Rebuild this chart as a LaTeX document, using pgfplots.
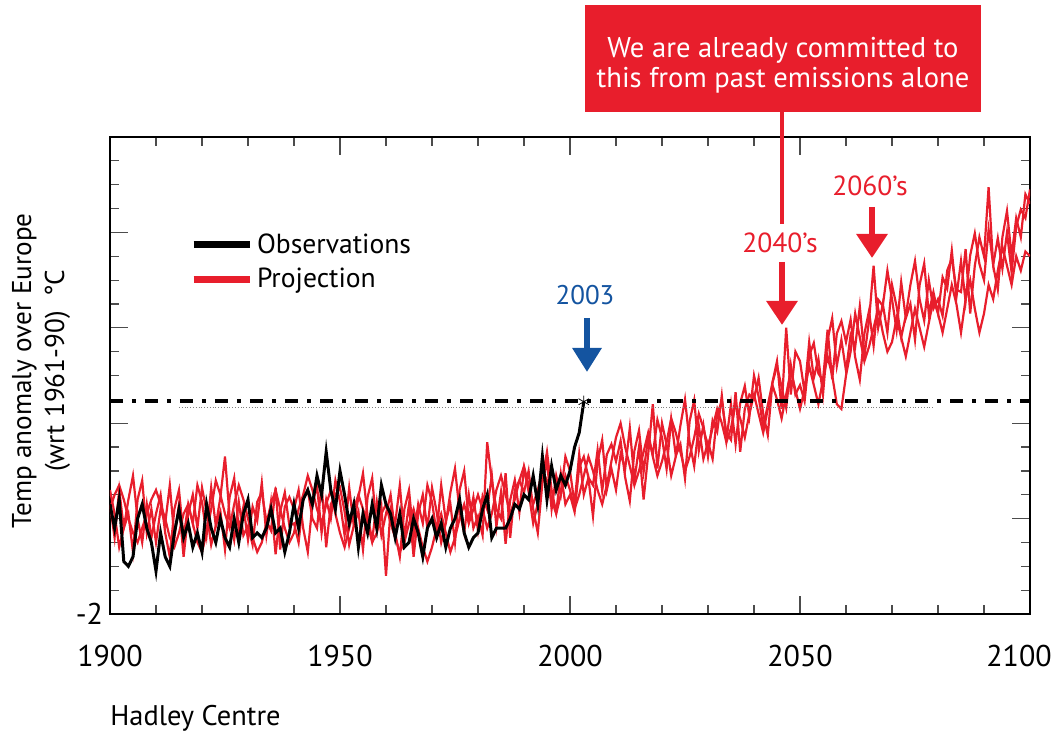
\documentclass[border=0pt]{standalone}
\usepackage{pgfplots}
\pgfplotsset{compat=1.18}
\usepackage{pgfplotstable}
\usepackage{fontspec}
\setmainfont{PT Sans}
\usetikzlibrary{arrows.meta}
\definecolor{projred}{RGB}{232,30,44}
\definecolor{obsblue}{RGB}{20,84,160}

% three projection members, annual
\pgfplotstableread{
year a b c
1900 0.3 0.6 0.2
1901 -0.4 0.1 0.5
1902 0.6 -0.6 0.7
1903 -0.2 -0.2 0.4
1904 0.1 0.4 0.0
1905 -0.7 0.9 -0.3
1906 0.4 0.0 -0.5
1907 0.8 -0.5 -0.2
1908 -0.3 0.3 0.1
1909 0.2 -0.4 0.4
1910 -0.5 0.1 0.6
1911 0.2 0.5 0.3
1912 -0.1 -0.3 0.0
1913 0.7 -0.8 -0.4
1914 -0.4 0.2 -0.6
1915 0.3 0.6 -0.3
1916 -0.8 -0.4 0.1
1917 0.1 0.3 0.3
1918 0.5 -0.1 -0.1
1919 -0.2 0.7 -0.5
1920 0.65 0.35 -0.7
1921 0.15 -0.35 -0.3
1922 -0.55 0.65 0.2
1923 -0.15 -0.15 0.8
1924 0.45 0.15 0.5
1925 1.3 -0.65 0.1
1926 0.05 0.45 -0.2
1927 -0.45 0.85 0.3
1928 0.35 -0.25 0.7
1929 -0.35 0.25 0.4
1930 -0.15 -0.45 0.0
1931 -0.55 0.25 -0.4
1932 0.35 -0.05 -0.7
1933 0.55 0.75 -0.5
1934 -0.05 -0.35 -0.1
1935 -0.25 0.35 0.3
1936 0.65 -0.75 0.6
1937 -0.65 0.15 0.2
1938 0.25 0.55 -0.2
1939 0.45 -0.15 -0.5
1940 0.2 -0.1 -0.3
1941 0.6 -0.5 0.2
1942 -0.2 0.4 0.5
1943 -0.7 0.6 0.9
1944 0.3 0.0 0.6
1945 0.7 -0.2 0.2
1946 -0.3 0.7 -0.1
1947 0.4 -0.6 0.3
1948 0.0 0.3 0.6
1949 0.8 0.5 0.1
1950 0.35 0.65 -0.3
1951 -0.35 0.15 -0.6
1952 0.65 -0.55 -0.2
1953 -0.15 -0.15 0.2
1954 0.15 0.45 0.5
1955 -0.65 0.95 0.2
1956 0.45 0.05 -0.1
1957 0.85 -0.45 -0.5
1958 -0.25 0.35 -0.3
1959 0.25 -0.35 0.1
1960 -1.2 0.1 0.3
1961 0.2 0.5 -0.1
1962 -0.1 -0.3 -0.4
1963 0.7 -0.8 -0.7
1964 -0.4 0.2 -0.5
1965 0.3 0.6 -0.1
1966 -0.8 -0.4 0.2
1967 0.1 0.3 -0.2
1968 0.5 -0.1 -0.6
1969 -0.2 0.7 -0.9
1970 0.65 0.35 -0.6
1971 0.15 -0.3 -0.2
1972 -0.5 0.7 0.1
1973 -0.1 -0.05 -0.3
1974 0.55 0.3 -0.7
1975 1.05 -0.5 -0.4
1976 0.15 0.6 0.0
1977 -0.3 1.0 0.3
1978 0.5 -0.05 -0.1
1979 -0.2 0.45 0.2
1980 0.05 -0.25 0.5
1981 -0.35 0.47 0.2
1982 1.6 0.19 -0.2
1983 0.8 0.91 0.1
1984 0.2 -0.17 0.6
1985 0.0 0.55 0.9
1986 0.95 -0.53 0.5
1987 -0.4 0.39 0.1
1988 0.6 0.81 0.4
1989 0.8 0.13 0.8
1990 0.55 1.05 1.1
1991 1.0 0.57 0.7
1992 0.2 -0.1 0.3
1993 -0.3 0.32 0.6
1994 0.75 0.85 1.0
1995 1.2 1.4 0.8
1996 0.2 0.6 0.4
1997 0.9 0.13 0.1
1998 0.5 0.95 0.5
1999 1.3 0.3 0.9
2000 1.0 0.5 0.6
2001 0.3 0.14 0.2
2002 1.35 1.08 0.5
2003 0.5 1.3 0.9
2004 0.85 0.86 1.3
2005 0.05 0.7 1.0
2006 1.2 1.44 0.6
2007 1.65 0.58 0.3
2008 0.6 1.34 0.7
2009 1.05 1.56 1.2
2010 0.6 1.2 1.7
2011 1.35 1.63 2.0
2012 1.05 0.86 1.5
2013 1.9 0.37 1.1
2014 0.8 1.42 0.7
2015 1.5 1.85 1.0
2016 0.4 0.98 1.4
2017 1.35 1.71 1.8
2018 2.4 1.34 1.3
2019 1.05 2.07 0.9
2020 2.0 1.7 1.2
2021 1.55 1.04 1.6
2022 0.9 2.08 2.1
2023 1.3 1.32 1.8
2024 1.95 1.56 1.4
2025 2.5 0.84 1.0
2026 1.6 2.04 1.3
2027 1.1 2.48 1.7
2028 1.95 1.42 2.2
2029 1.25 1.96 1.9
2030 1.6 1.3 1.5
2031 1.25 2.06 1.9
2032 2.2 1.82 2.3
2033 2.45 2.58 2.0
2034 1.8 1.64 1.6
2035 1.65 2.4 1.9
2036 2.65 1.56 2.4
2037 1.4 2.42 2.1
2038 2.3 2.78 1.7
2039 2.6 2.14 2.2
2040 2.5 3.0 2.6
2041 2.95 2.56 2.2
2042 2.2 1.92 1.8
2043 1.75 2.38 2.3
2044 2.85 2.84 2.8
2045 3.3 3.2 2.5
2046 2.3 2.76 2.1
2047 4.0 2.32 2.6
2048 2.6 3.22 3.1
2049 3.5 2.6 2.7
2050 3.3 2.8 2.3
2051 2.65 2.46 2.7
2052 3.7 3.42 3.2
2053 2.95 3.68 2.8
2054 3.35 3.04 2.4
2055 2.6 2.9 2.9
2056 3.75 3.96 3.4
2057 4.2 2.92 3.0
2058 3.2 3.88 2.4
2059 3.75 4.14 2.3
2060 3.1 3.7 3.0
2061 3.85 4.17 3.5
2062 3.6 3.38 4.3
2063 4.45 2.91 3.8
2064 3.4 3.88 3.3
2065 4.15 4.35 3.6
2066 5.3 3.62 4.0
2067 4.0 4.59 4.4
2068 4.5 4.46 3.9
2069 3.9 5.2 3.5
2070 4.9 4.6 3.7
2071 4.45 3.95 4.2
2072 3.8 4.96 3.8
2073 4.25 4.2 3.4
2074 4.9 4.5 3.9
2075 5.4 3.75 4.4
2076 4.6 4.9 4.0
2077 4.15 5.35 3.6
2078 5.0 4.3 4.1
2079 4.4 4.75 4.6
2080 4.6 4.3 4.3
2081 4.25 5.06 3.9
2082 5.2 4.82 4.4
2083 5.45 5.62 4.9
2084 4.8 4.64 4.5
2085 4.75 5.4 3.9
2086 5.65 4.56 4.6
2087 4.3 5.52 5.0
2088 5.3 5.98 4.4
2089 5.9 5.34 3.9
2090 5.5 5.0 4.3
2091 6.95 6.06 4.9
2092 5.3 5.32 4.6
2093 4.8 5.88 5.2
2094 5.9 5.24 5.7
2095 6.45 6.0 5.3
2096 5.5 5.16 4.9
2097 6.3 6.12 5.5
2098 5.9 6.48 5.2
2099 6.8 6.3 5.6
2100 6.6 6.9 5.5
}\projdata

% observations
\pgfplotstableread{
year t
1900 0.3
1901 -0.2
1902 0.4
1903 -0.9
1904 -1.0
1905 -0.8
1906 0.0
1907 0.3
1908 -0.2
1909 -0.5
1910 -1.1
1911 -0.3
1912 -0.8
1913 -1.0
1914 -0.3
1915 0.2
1916 -0.4
1917 -0.1
1918 -0.6
1919 -0.3
1920 -0.7
1921 0.3
1922 -0.2
1923 -0.5
1924 0.0
1925 -0.4
1926 -0.6
1927 0.0
1928 -0.5
1929 0.1
1930 0.4
1931 -0.4
1932 -0.3
1933 -0.4
1934 -0.2
1935 0.2
1936 -0.3
1937 -0.2
1938 -0.7
1939 -0.3
1940 0.3
1941 -0.2
1942 0.4
1943 0.6
1944 0.3
1945 0.9
1946 0.5
1947 1.4
1948 0.6
1949 0.2
1950 1.0
1951 0.5
1952 -0.1
1953 0.3
1954 -0.6
1955 0.1
1956 -0.3
1957 0.3
1958 -0.2
1959 0.7
1960 0.3
1961 0.1
1962 -0.4
1963 0.1
1964 -0.6
1965 -0.5
1966 0.0
1967 -0.3
1968 -0.8
1969 -0.2
1970 0.0
1971 -0.4
1972 -0.1
1973 -0.6
1974 -0.2
1975 0.0
1976 0.4
1977 -0.3
1978 -0.6
1979 -0.4
1980 -0.3
1981 0.2
1982 0.5
1983 -0.4
1984 -0.2
1985 -0.2
1986 -0.2
1987 0.0
1988 0.3
1989 0.2
1990 0.5
1991 0.4
1992 0.9
1993 0.3
1994 1.3
1995 0.4
1996 1.1
1997 0.6
1998 0.9
1999 0.7
2000 1.0
2001 1.5
2002 1.8
2003 2.45
}\obsdata

\begin{document}
\begin{tikzpicture}
\path[use as bounding box] (-55pt,-59.5pt) rectangle (472pt,307pt);
\begin{axis}[
  at={(0,0)}, anchor=south west,
  scale only axis, width=460pt, height=238.5pt,
  xmin=1900, xmax=2100, ymin=-2, ymax=8,
  xtick={1900,1950,...,2100},
  xticklabels={1900,1950,2000,2050,\hspace*{-11pt}2100},
  minor x tick num=4,
  ytick={-2,0,...,8}, yticklabels={-2,,,,,}, minor y tick num=3,
  tick align=inside, major tick length=9pt, minor tick length=4.5pt,
  tick style={black!70, line width=0.6pt},
  axis line style={line width=1pt},
  /pgf/number format/assume math mode=true,
  xticklabel style={font=\fontsize{15}{18}\selectfont, yshift=-12pt},
  yticklabel style={font=\fontsize{15}{18}\selectfont},
  ylabel={Temp anomaly over Europe\\(wrt 1961-90)\ \ °C},
  ylabel style={align=center, font=\fontsize{13.6}{16.5}\selectfont, at={(axis description cs:-0.075,0.51)}, anchor=center},
  legend style={at={(axis description cs:0.08,0.815)}, anchor=north west, draw=none, fill=none,
    font=\fontsize{13.8}{16}\selectfont, row sep=2pt},
  legend cell align=left,
  legend image code/.code={\draw[#1, line width=3.5pt] (0pt,0pt) -- (28pt,0pt);},
]
\addlegendimage{black}
\addlegendentry{Observations}
\addlegendimage{projred}
\addlegendentry{Projection}

\addplot[projred, line width=1.1pt, forget plot] table[x=year, y=c] {\projdata};
\addplot[projred, line width=1.1pt, forget plot] table[x=year, y=b] {\projdata};
\addplot[projred, line width=1.1pt, forget plot] table[x=year, y=a] {\projdata};
\addplot[black, line width=1.5pt, forget plot] table[x=year, y=t] {\obsdata};

\addplot[gray, line width=0.4pt, densely dotted, forget plot] coordinates {(1915,2.34) (2079,2.34)};
\addplot[black, line width=2pt, dash pattern=on 6.5pt off 4.5pt on 2pt off 4.5pt, forget plot]
  coordinates {(1900,2.47) (2100,2.47)};
\addplot[black, only marks, mark=asterisk, mark size=3pt, forget plot] coordinates {(2003,2.45)};
\end{axis}

% callout box
\fill[projred] (237.5pt,251pt) rectangle (435.5pt,304.5pt);
\node[white, align=center, font=\fontsize{14.3}{15}\selectfont] at (336.5pt,274.5pt)
  {We are already committed to\\this from past emissions alone};
\draw[projred, line width=2pt] (336pt,251pt) -- (336pt,195pt);

\node[projred, font=\fontsize{13.8}{15}\selectfont] at (335pt,185.5pt) {2040’s};
\draw[projred, line width=3pt, -{Triangle[width=15pt,length=12pt]}] (336pt,176pt) -- (336pt,144.5pt);
\node[projred, font=\fontsize{13.8}{15}\selectfont] at (380pt,214pt) {2060’s};
\draw[projred, line width=3pt, -{Triangle[width=15pt,length=12pt]}] (381pt,203.5pt) -- (381pt,178pt);
\node[obsblue, font=\fontsize{13.5}{15}\selectfont] at (237.5pt,159.5pt) {2003};
\draw[obsblue, line width=3pt, -{Triangle[width=14pt,length=12pt]}] (238.5pt,148pt) -- (238.5pt,121pt);

\node[anchor=west, inner sep=0pt, font=\fontsize{14.2}{16}\selectfont] at (0pt,-52pt) {Hadley Centre};
\end{tikzpicture}
\end{document}
